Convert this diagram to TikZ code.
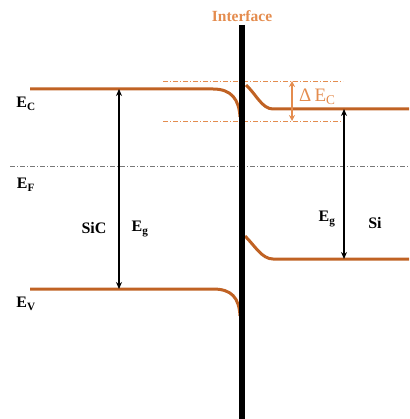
\documentclass[tikz,border=0pt]{standalone}
\usepackage{fontspec}
\setmainfont{Liberation Serif}
\usetikzlibrary{arrows.meta}
\definecolor{band}{RGB}{192,98,36}
\definecolor{lightor}{RGB}{228,140,78}
\definecolor{fermi}{RGB}{120,120,120}
\begin{document}
\begin{tikzpicture}[x=1pt,y=-1pt,
  bandline/.style={band,line width=3pt},
  dashref/.style={lightor,line width=0.8pt,dash pattern=on 5pt off 2pt on 1pt off 2pt},
  gaparrow/.style={black,line width=1.4pt,{Stealth[length=7pt,width=6pt]}-{Stealth[length=7pt,width=6pt]}},
  lab/.style={font=\fontsize{16}{18}\selectfont\bfseries,inner sep=0pt}]
\useasboundingbox (0,0) rectangle (409,419);
% Fermi level
\coordinate (f1) at (10,166);
\coordinate (f2) at (409,166);
\draw[fermi,line width=0.7pt,dash pattern=on 5pt off 2pt on 1pt off 2pt] (f1) -- (f2);
% reference dashed lines
\coordinate (d1) at (163,81); \coordinate (d2) at (343,81);
\coordinate (d3) at (163,121); \coordinate (d4) at (343,121);
\draw[dashref] (d1) -- (d2);
\draw[dashref] (d3) -- (d4);
% bands
\draw[bandline] (30,89) -- (213,89) .. controls (232,89) and (239,100) .. (240,117);
\draw[bandline] (30,289) -- (213,289) .. controls (232,289) and (239,298) .. (240,316);
\draw[bandline] (246,85) .. controls (256,94) and (262,109) .. (273,109) -- (409,109);
\draw[bandline] (245,236) .. controls (255,246) and (262,259) .. (273,259) -- (409,259);
% interface bar
\coordinate (i1) at (242,25);
\coordinate (i2) at (242,419);
\draw[black,line width=6pt] (i1) -- (i2);
\node[inner sep=0pt,text=lightor,font=\fontsize{15.5}{17}\selectfont\bfseries] (itf) at (242,16) {Interface};
% arrows
\coordinate (a1) at (119,89); \coordinate (a2) at (119,289);
\draw[gaparrow] (a1) -- (a2);
\coordinate (b1) at (344,109); \coordinate (b2) at (344,259);
\draw[gaparrow] (b1) -- (b2);
\coordinate (c1) at (292,81); \coordinate (c2) at (292,121);
\draw[lightor,line width=1.4pt,{Stealth[length=6pt,width=6pt]}-{Stealth[length=6pt,width=6pt]}] (c1) -- (c2);
\node[inner sep=0pt,text=lightor,font=\fontsize{19}{21}\selectfont,anchor=west] (dec) at (299,97) {Δ\,E\textsubscript{C}};
% labels
\node[lab] (ec) at (26,104) {E\textsubscript{C}};
\node[lab] (ef) at (26,185) {E\textsubscript{F}};
\node[lab] (ev) at (26,304) {E\textsubscript{V}};
\node[lab] (sic) at (94,228) {SiC};
\node[lab] (eg1) at (140,229) {E\textsubscript{g}};
\node[lab] (eg2) at (327,219) {E\textsubscript{g}};
\node[lab] (si) at (375,223) {Si};
\end{tikzpicture}
\end{document}
